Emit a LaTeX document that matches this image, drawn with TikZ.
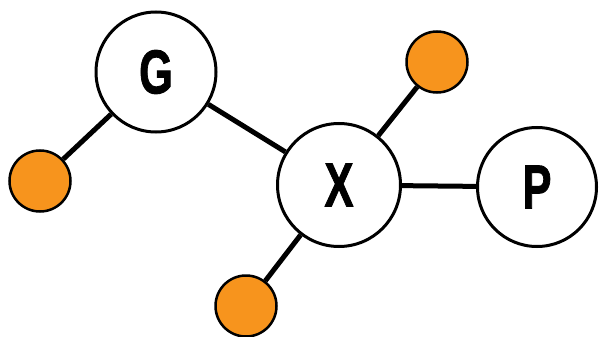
\documentclass[tikz,border=0pt]{standalone}
\usepackage{fontspec}
\setmainfont{Liberation Sans}
\newfontfamily\heavyfont[FakeBold=1.6]{Liberation Sans Bold}
\definecolor{dotorange}{HTML}{F7941D}
\begin{document}
\begin{tikzpicture}[x=1pt,y=-1pt,
  big/.style={circle,draw=black,line width=3pt,fill=white,minimum size=120pt,inner sep=0pt,
    font=\fontsize{62}{62}\heavyfont},
  dot/.style={circle,draw=black,line width=2.5pt,fill=dotorange,minimum size=61pt,inner sep=0pt},
  link/.style={line width=5pt,black}]
\useasboundingbox (0,0) rectangle (600,337);
\node[big] (G) at (156,72) {\scalebox{0.7}[1]{G}};
\node[big,minimum size=123pt] (X) at (339,185) {\scalebox{0.7}[1]{X}};
\node[big,minimum size=119pt] (P) at (537,187) {\scalebox{0.7}[1]{P}};
\node[dot] (o1) at (40,181) {};
\node[dot] (o2) at (437,62) {};
\node[dot] (o3) at (246,306) {};
\draw[link] (G) -- (X);
\draw[link] (G) -- (o1);
\draw[link] (X) -- (o2);
\draw[link] (X) -- (P);
\draw[link] (X) -- (o3);
\end{tikzpicture}
\end{document}
